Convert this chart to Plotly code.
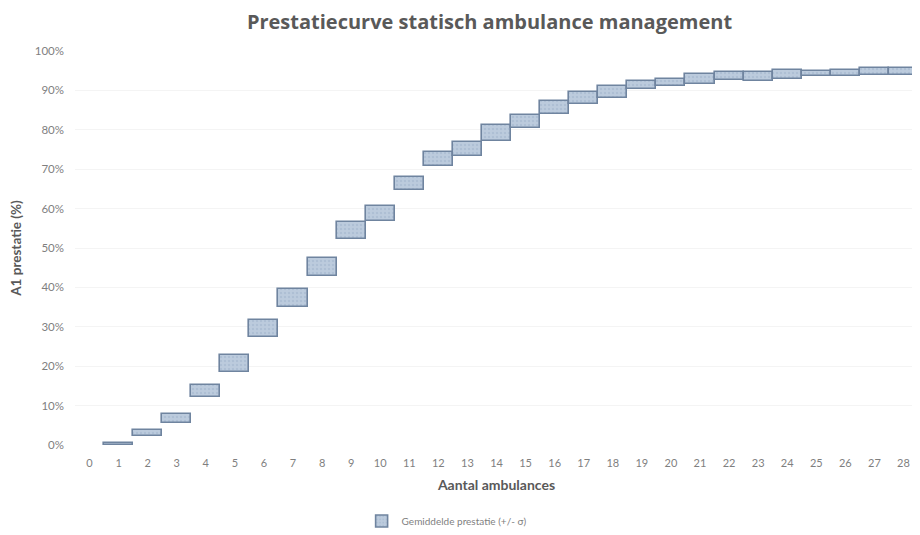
import plotly.graph_objects as go

# Aantal ambulances (category 0 stays empty)
categories = list(range(0, 29))
ambulances = list(range(1, 29))

# Gemiddelde prestatie - sigma / + sigma (fraction of A1 calls on time)
prestatie_laag = [0.000, 0.023, 0.055, 0.123, 0.186, 0.273, 0.350, 0.430, 0.523, 0.569,
                  0.648, 0.708, 0.734, 0.772, 0.804, 0.840, 0.865, 0.880, 0.904, 0.912,
                  0.916, 0.927, 0.925, 0.930, 0.936, 0.937, 0.940, 0.940]
prestatie_hoog = [0.006, 0.038, 0.079, 0.152, 0.228, 0.317, 0.395, 0.475, 0.565, 0.607,
                  0.680, 0.744, 0.770, 0.812, 0.838, 0.874, 0.895, 0.910, 0.925, 0.930,
                  0.942, 0.946, 0.946, 0.953, 0.949, 0.952, 0.956, 0.956]

y_ticks = [i / 10 for i in range(0, 11)]

FONT = "Lato, 'Open Sans', sans-serif"
GREY = "#7f7f7f"
DARK = "#595959"

# the page body adds an 8px margin, so the figure is 8px smaller each way
W, H = 912, 527

fig = go.Figure()

fig.add_trace(
    go.Bar(
        x=ambulances,
        y=[h - l for l, h in zip(prestatie_laag, prestatie_hoog)],
        base=prestatie_laag,
        name="Gemiddelde prestatie (+/- σ)",
        width=1.0,
        marker=dict(
            color="#bccbdd",
            line=dict(color="#6f849f", width=1.6),
            pattern=dict(shape=".", fgcolor="#9fb2c9", size=4, solidity=0.3),
        ),
        hovertemplate="%{x}: %{base:.1%} - %{y:.1%}<extra></extra>",
    )
)

fig.update_layout(
    width=W,
    height=H,
    margin=dict(l=67, r=2, t=43, b=90),
    paper_bgcolor="white",
    plot_bgcolor="white",
    font=dict(family=FONT, color=GREY, size=11),
    title=dict(
        text="<b>Prestatiecurve statisch ambulance management</b>",
        x=481.5 / W,
        xref="container",
        xanchor="center",
        y=1 - 14 / H,
        yanchor="middle",
        font=dict(family="'Open Sans', sans-serif", size=20, color=DARK),
    ),
    xaxis=dict(
        range=[-0.5, 28.5],
        tickvals=categories,
        ticktext=[str(c) for c in categories],
        showgrid=False,
        zeroline=False,
        showline=False,
        ticks="",
        automargin=False,
        ticklabelstandoff=10,
        tickfont=dict(size=11, color=GREY),
        title=dict(
            text="<b>Aantal ambulances</b>",
            font=dict(size=14, color=DARK),
            standoff=12,
        ),
    ),
    yaxis=dict(
        range=[0, 1],
        tickvals=y_ticks,
        tickformat=".0%",
        showgrid=True,
        gridcolor="#f4f4f4",
        zeroline=False,
        showline=False,
        ticks="",
        automargin=False,
        ticklabelstandoff=10,
        tickfont=dict(size=11.5, color=GREY),
        title=dict(
            text="<b>A1 prestatie (%)</b>",
            font=dict(size=13.5, color=DARK),
            standoff=10,
        ),
    ),
    bargap=0,
    showlegend=True,
    legend=dict(
        orientation="h",
        x=0.340,
        xanchor="left",
        yref="container",
        y=14 / H,
        yanchor="middle",
        itemwidth=30,
        font=dict(size=10, color=GREY),
    ),
)

fig.write_html("out.html")
